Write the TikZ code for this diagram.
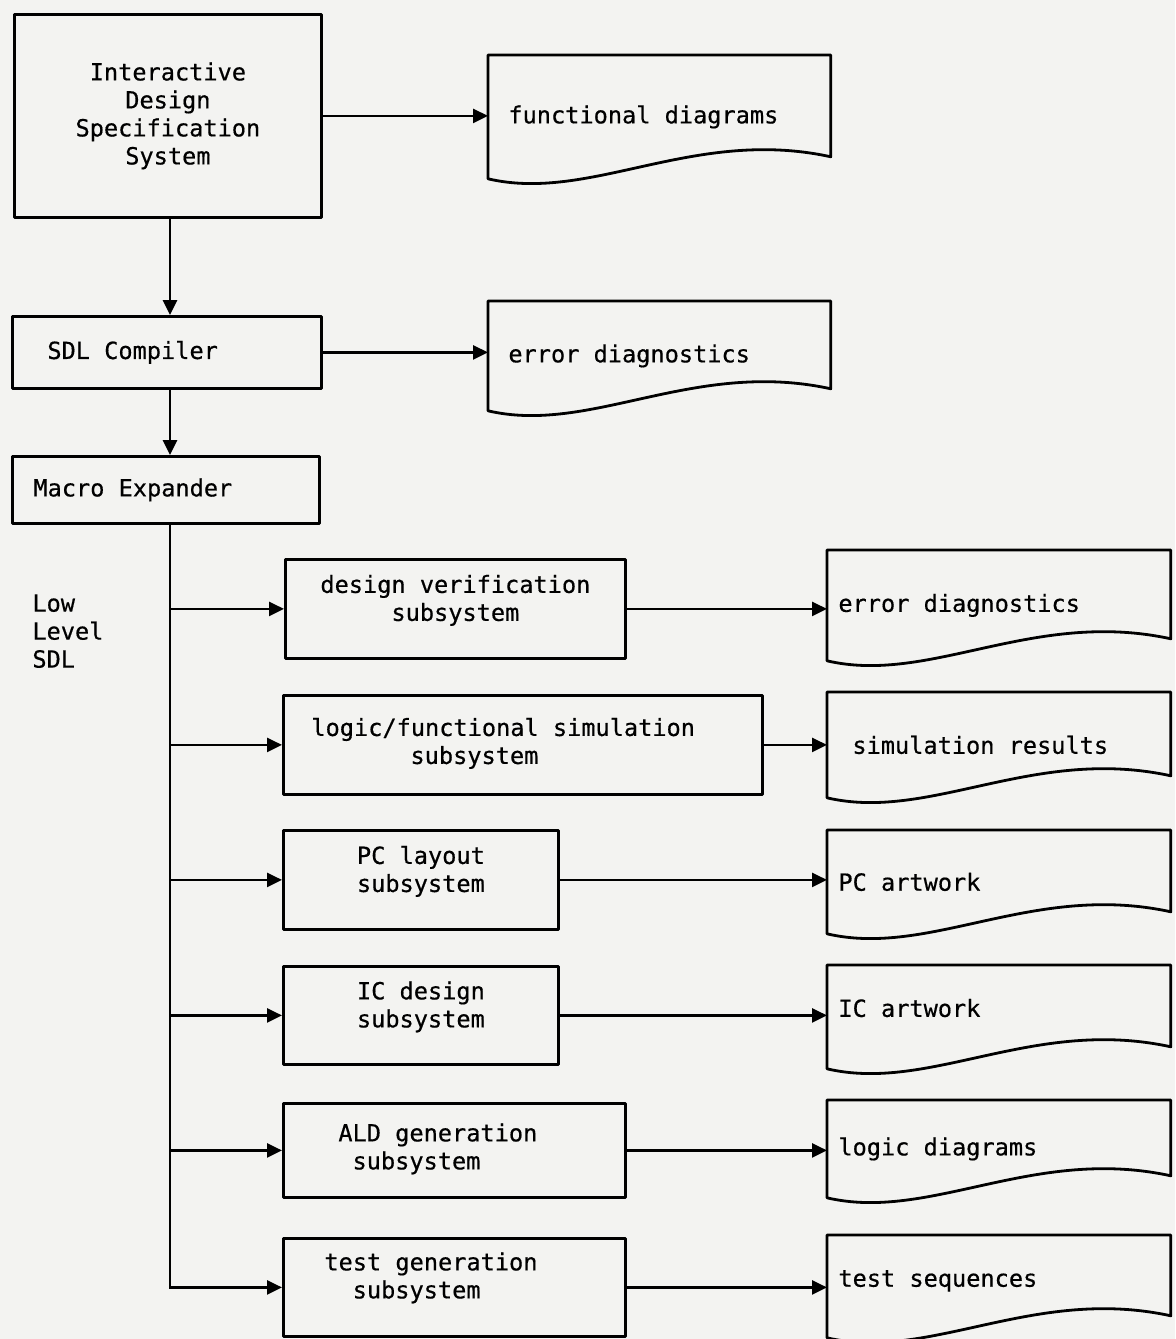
\documentclass[tikz,border=0pt]{standalone}
\usepackage{fontspec}
\newfontfamily\typewriter[WordSpace={1,0,0},FakeBold=0.5]{DejaVu Sans Mono}
\usepackage{tikz}
\usetikzlibrary{arrows.meta,calc}
\definecolor{paper}{RGB}{243,243,241}
\newcommand\tyfont{\typewriter\fontsize{11.8}{14}\selectfont}
% document symbol: straight top and sides, wavy bottom
\newcommand\docoutline[1]{%
\draw[boxline] (#1.south west) -- (#1.north west) -- (#1.north east) -- ($(#1.south east)+(0,-22)$)
 .. controls ($(#1.south west)!0.6!(#1.south east)+(0,-52)$) and ($(#1.south west)!0.3!(#1.south east)+(0,24)$) .. (#1.south west) -- cycle;}
\tikzset{
 boxline/.style={line width=1.4pt,line join=round},
 procbox/.style={draw,boxline,anchor=north west,inner sep=0pt,font=\tyfont,align=flush center},
 docbox/.style={anchor=north west,inner ysep=0pt,minimum height=#1,align=flush left,font=\tyfont},
 leftdoc/.style={docbox=#1,inner xsep=10pt,text width=151pt},
 rightdoc/.style={docbox=#1,inner xsep=5.5pt,text width=160.5pt},
 link/.style={-{Triangle[length=7.5pt,width=7pt]},line width=1.3pt}
}
\begin{document}
\begin{tikzpicture}[x=0.5pt,y=-0.5pt]
\fill[paper] (0,0) rectangle (1175,1339);
\useasboundingbox (0,0) rectangle (1175,1339);
\coordinate (trunk) at (170,0);
% main chain
\node[procbox,minimum width=153.5pt,minimum height=101.5pt] (idss) at (13,13) {Interactive\\Design\\Specification\\System};
\node[procbox,minimum width=154.5pt,minimum height=36pt,inner xsep=17.5pt,text width=119.5pt,align=flush left] (sdl) at (11,315) {SDL Compiler};
\node[procbox,minimum width=153.5pt,minimum height=33.5pt,inner xsep=10.5pt,text width=132.5pt,align=flush left] (macro) at (11,455) {Macro Expander};
\node[anchor=north west,align=flush left,inner sep=0pt,font=\tyfont] (lowsdl) at (32,594) {Low\\Level\\SDL};
% subsystems
\node[procbox,minimum width=170pt,minimum height=49.5pt,text depth=11pt] (s1) at (284,558) {design verification\\subsystem};
\node[procbox,minimum width=239.5pt,minimum height=49.5pt,inner xsep=14pt,text width=211.5pt,align=flush left,text depth=18pt] (s2) at (282,694) {logic/functional simulation\\\hspace*{4.2em}subsystem};
\node[procbox,minimum width=137.5pt,minimum height=49.5pt,text depth=11pt] (s3) at (282,829) {PC layout\\subsystem};
\node[procbox,minimum width=137.5pt,minimum height=49pt,text depth=11pt] (s4) at (282,965) {IC design\\subsystem};
\node[procbox,minimum width=171pt,minimum height=47pt,inner xsep=27.5pt,text width=116pt,align=flush left,text depth=18pt] (s5) at (282,1102) {ALD generation\\\hspace*{0.6em}subsystem};
\node[procbox,minimum width=171pt,minimum height=49pt,inner xsep=20.5pt,text width=130pt,align=flush left,text depth=26pt] (s6) at (282,1237) {test generation\\\hspace*{1.2em}subsystem};
% output documents
\node[leftdoc=61.5pt] (fd) at (488,55) {functional diagrams};
\node[leftdoc=54.5pt] (ed1) at (488,301) {error diagnostics};
\node[rightdoc=55pt] (ed2) at (827,550) {error diagnostics};
\node[rightdoc=52.5pt] (sim) at (827,692) {\hspace*{7pt}simulation results};
\node[rightdoc=51.5pt] (pca) at (827,830) {PC artwork};
\node[rightdoc=51.5pt,text depth=9pt] (ica) at (827,965) {IC artwork};
\node[rightdoc=48.5pt] (ld) at (827,1100) {logic diagrams};
\node[rightdoc=51pt,text depth=8pt] (ts) at (827,1235) {test sequences};
\foreach \d in {fd,ed1,ed2,sim,pca,ica,ld,ts} {\docoutline{\d}}
% connectors
\draw[link] (idss.south -| trunk) -- (sdl.north -| trunk);
\draw[link] (sdl.south -| trunk) -- (macro.north -| trunk);
\draw[link] (macro.south -| trunk) |- (s6.west);
\foreach \s in {s1,s2,s3,s4,s5} {\draw[link] (\s.west -| trunk) -- (\s.west);}
\foreach \a/\b in {idss/fd,sdl/ed1,s1/ed2,s2/sim,s3/pca,s4/ica,s5/ld,s6/ts} {\draw[link] (\a.east) -- (\a.east -| \b.west);}
\end{tikzpicture}
\end{document}
